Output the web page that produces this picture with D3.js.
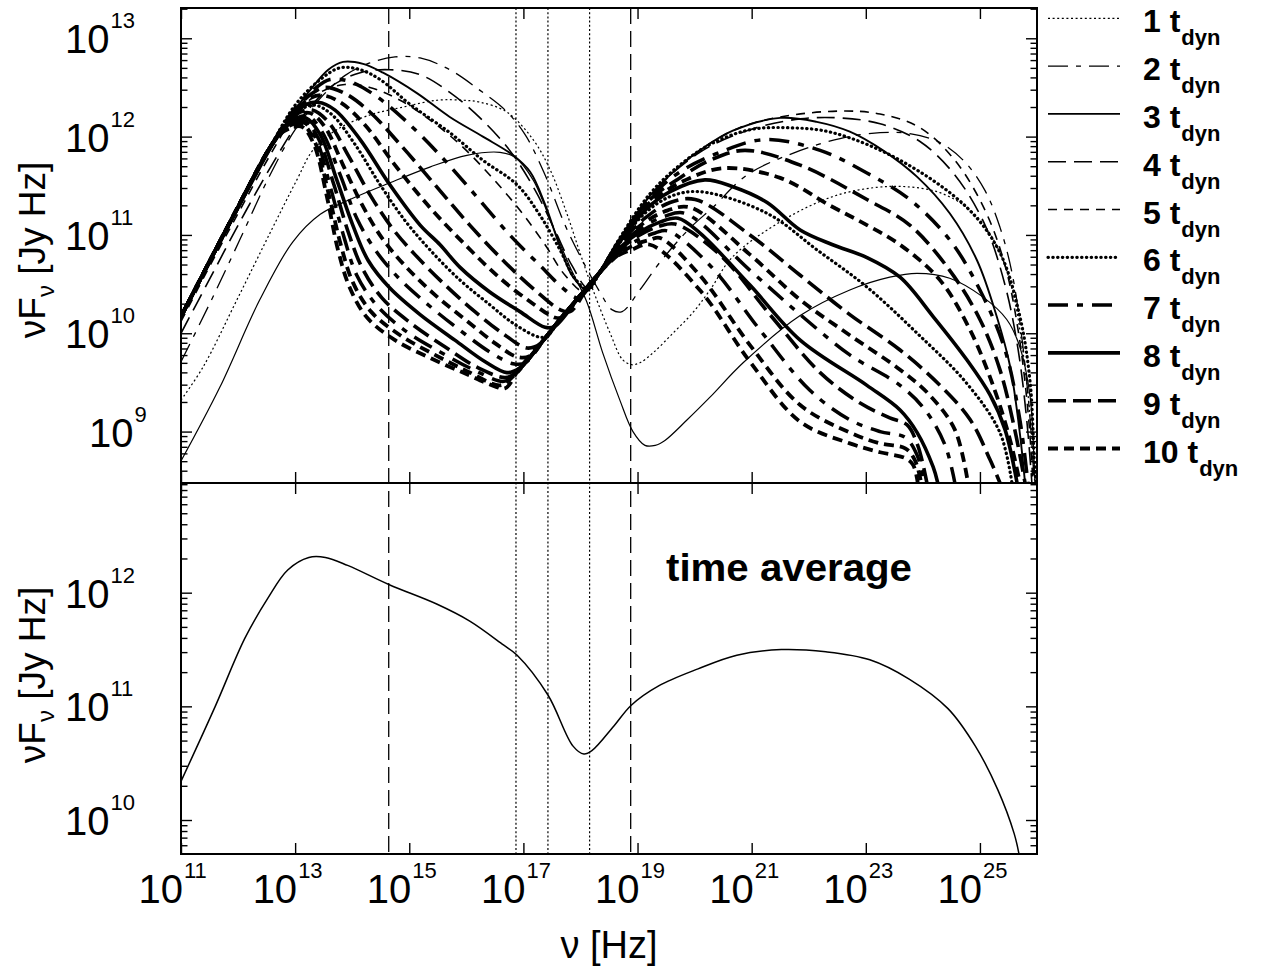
<!DOCTYPE html>
<html><head><meta charset="utf-8">
<script src="https://cdn.jsdelivr.net/npm/d3@7"></script>
<style>
body{margin:0;background:#fff}
svg{display:block}
text{font-family:"Liberation Sans",Arial,Helvetica,sans-serif;fill:#000}
</style>
</head><body>
<svg id="chart" width="1265" height="971"></svg>
<script>
// ---------- DATA (log10 nu [Hz], log10 nuFnu [Jy Hz]) ----------
const xTickExps = [11,13,15,17,19,21,23,25];
const yTopTickExps = [9,10,11,12,13];
const yBotTickExps = [10,11,12];
const vDashedExps = [14.64, 18.88];
const vDottedExps = [16.87, 17.43, 18.16];
const legendLabels = ["1","2","3","4","5","6","7","8","9","10"];
const legendStyles = ["s1","s2","s3","s4","s5","s6","s7","s8","s9","s10"];

const spec0 = [[11.00,8.70],[11.68,9.45],[12.38,10.34],[12.96,10.93],[13.44,11.21],[13.96,11.36],[14.66,11.53],[15.36,11.69],[16.01,11.81],[16.59,11.84],[16.85,11.79],[17.17,11.56],[17.52,11.08],[17.82,10.67],[18.11,10.32],[18.39,9.80],[18.69,9.32],[18.92,9.00],[19.13,8.86],[19.31,8.86],[19.48,8.91],[19.87,9.12],[20.27,9.35],[20.85,9.70],[21.85,10.18],[22.72,10.44],[23.42,10.57],[23.90,10.61],[24.47,10.56],[25.05,10.37],[25.47,10.14],[25.70,9.86],[25.88,9.35],[25.95,8.68],[25.98,8.30]];
const spec1 = [[11.00,9.32],[11.39,9.66],[11.98,10.34],[12.56,11.02],[13.03,11.56],[13.31,11.86],[13.73,12.07],[14.31,12.22],[14.89,12.30],[15.49,12.37],[15.94,12.37],[16.24,12.35],[16.71,12.25],[17.17,11.97],[17.47,11.66],[17.76,11.22],[17.99,10.82],[18.22,10.44],[18.52,10.00],[18.74,9.73],[18.90,9.68],[19.04,9.70],[19.27,9.80],[19.62,10.00],[19.97,10.21],[20.27,10.44],[20.67,10.78],[21.55,11.15],[22.42,11.39],[23.13,11.48],[23.72,11.49],[24.30,11.43],[24.77,11.28],[25.05,11.12],[25.35,10.82],[25.58,10.41],[25.75,9.83],[25.88,9.15],[25.96,8.48]];
const spec2 = [[11.00,9.71],[11.51,10.31],[12.03,10.95],[12.56,11.61],[13.00,12.07],[13.44,12.39],[13.87,12.62],[14.31,12.75],[14.75,12.81],[15.19,12.80],[15.71,12.68],[16.24,12.47],[16.68,12.27],[17.03,12.02],[17.38,11.61],[17.73,11.10],[18.08,10.69],[18.34,10.42],[18.55,10.24],[18.73,10.22],[19.04,10.44],[19.39,10.72],[19.92,11.07],[20.32,11.28],[20.92,11.61],[21.72,11.83],[22.55,11.98],[23.25,12.04],[23.77,12.03],[24.30,11.94],[24.74,11.74],[25.09,11.45],[25.35,11.08],[25.56,10.62],[25.74,9.93],[25.88,9.12],[25.95,8.48]];
const spec3 = [[11.00,10.16],[12.03,11.29],[12.56,11.86],[12.91,12.20],[13.26,12.47],[13.58,12.68],[13.84,12.76],[14.19,12.74],[14.54,12.65],[15.14,12.44],[15.71,12.20],[16.29,12.00],[16.82,11.81],[17.12,11.64],[17.38,11.31],[17.64,10.88],[17.87,10.57],[18.13,10.44],[18.34,10.62],[18.69,10.95],[19.22,11.40],[19.74,11.70],[20.09,11.86],[20.67,12.06],[21.50,12.19],[22.14,12.15],[22.72,12.05],[23.30,11.86],[23.90,11.59],[24.47,11.22],[24.95,10.74],[25.30,10.16],[25.53,9.66],[25.70,8.98],[25.79,8.48]];
const spec4 = [[11.00,10.00],[11.51,10.56],[12.03,11.13],[12.56,11.68],[13.09,12.17],[13.61,12.50],[14.14,12.65],[14.66,12.68],[15.19,12.63],[15.71,12.45],[16.24,12.19],[16.76,11.86],[17.20,11.46],[17.55,11.05],[17.85,10.69],[18.13,10.46],[18.34,10.62],[18.69,10.95],[19.22,11.40],[20.09,11.84],[20.97,12.07],[21.85,12.18],[22.55,12.19],[23.25,12.13],[23.95,11.95],[24.56,11.61],[25.09,11.10],[25.44,10.49],[25.67,9.83],[25.82,9.12],[25.91,8.48]];
const spec5 = [[11.00,10.12],[11.51,10.69],[12.03,11.25],[12.56,11.81],[13.00,12.22],[13.44,12.45],[13.87,12.53],[14.31,12.50],[14.84,12.37],[15.36,12.17],[15.89,11.92],[16.41,11.61],[16.94,11.25],[17.38,10.90],[17.73,10.59],[18.08,10.42],[18.34,10.62],[18.69,10.95],[19.22,11.40],[20.09,11.86],[20.79,12.09],[21.50,12.20],[22.55,12.26],[23.25,12.23],[23.95,12.09],[24.56,11.76],[25.09,11.25],[25.44,10.69],[25.67,10.03],[25.84,9.22],[25.93,8.48]];
const spec6 = [[11.00,10.17],[12.03,11.32],[12.56,11.89],[13.00,12.32],[13.44,12.58],[13.79,12.70],[14.14,12.68],[14.49,12.58],[15.01,12.33],[15.71,12.04],[16.29,11.76],[16.89,11.51],[17.29,11.20],[17.64,10.85],[17.90,10.56],[18.13,10.44],[18.34,10.62],[18.69,10.97],[19.22,11.42],[19.74,11.71],[20.27,11.92],[20.97,12.07],[21.67,12.09],[22.42,12.04],[23.60,11.76],[24.77,11.28],[25.35,10.82],[25.70,10.17],[25.88,9.50],[25.96,8.64],[26.00,8.40]];
const spec7 = [[11.00,10.17],[12.03,11.32],[12.56,11.89],[13.00,12.29],[13.35,12.49],[13.61,12.58],[13.96,12.56],[14.40,12.42],[14.92,12.17],[15.54,11.81],[16.15,11.41],[16.76,11.00],[17.29,10.69],[17.73,10.44],[17.96,10.36],[18.17,10.48],[18.34,10.62],[18.69,10.95],[19.22,11.38],[19.74,11.64],[20.44,11.84],[21.23,11.97],[22.20,11.86],[23.02,11.63],[23.77,11.36],[24.47,10.95],[25.00,10.44],[25.44,9.83],[25.70,9.12],[25.84,8.48]];
const spec8 = [[11.00,10.17],[12.03,11.32],[12.56,11.89],[13.00,12.27],[13.30,12.44],[13.52,12.50],[13.87,12.44],[14.31,12.25],[14.84,11.92],[15.45,11.51],[16.06,11.10],[16.68,10.72],[17.20,10.44],[17.64,10.24],[17.82,10.22],[18.08,10.42],[18.34,10.62],[18.69,10.95],[19.22,11.36],[19.74,11.58],[20.27,11.76],[20.88,11.86],[21.85,11.71],[23.02,11.36],[23.77,11.10],[24.47,10.64],[25.00,10.14],[25.35,9.63],[25.61,9.02],[25.79,8.48]];
const spec9 = [[11.00,10.17],[12.03,11.32],[12.56,11.89],[12.94,12.22],[13.26,12.39],[13.47,12.42],[13.79,12.35],[14.22,12.12],[14.75,11.71],[15.36,11.28],[15.98,10.90],[16.59,10.56],[17.12,10.32],[17.55,10.16],[17.68,10.16],[17.99,10.38],[18.34,10.62],[18.69,10.95],[19.22,11.33],[19.92,11.58],[20.53,11.68],[21.50,11.58],[22.37,11.30],[23.02,11.10],[23.60,10.90],[24.30,10.54],[24.83,10.03],[25.26,9.42],[25.53,8.91],[25.70,8.48]];
const spec10 = [[11.00,10.17],[12.03,11.32],[12.56,11.89],[12.94,12.19],[13.17,12.32],[13.40,12.35],[13.70,12.27],[14.14,11.97],[14.66,11.51],[15.19,11.10],[15.54,10.90],[15.89,10.67],[16.41,10.42],[16.94,10.22],[17.38,10.06],[17.55,10.07],[17.99,10.38],[18.34,10.62],[18.69,10.93],[19.13,11.25],[19.57,11.44],[20.18,11.56],[20.67,11.49],[21.27,11.33],[21.85,11.05],[22.42,10.90],[23.02,10.77],[23.60,10.57],[24.18,10.17],[24.77,9.73],[25.18,9.37],[25.44,9.02],[25.65,8.48]];
const spec11 = [[11.00,10.17],[12.03,11.32],[12.56,11.89],[12.91,12.17],[13.14,12.29],[13.35,12.32],[13.65,12.22],[14.05,11.92],[14.49,11.51],[14.92,11.15],[15.36,10.85],[15.89,10.54],[16.41,10.29],[16.85,10.09],[17.29,9.96],[17.43,9.98],[17.64,10.14],[17.99,10.38],[18.34,10.62],[18.69,10.92],[19.13,11.22],[19.57,11.39],[20.09,11.44],[21.27,11.22],[22.14,10.85],[23.02,10.47],[23.90,10.00],[24.77,9.49],[25.35,8.99],[25.56,8.48]];
const spec12 = [[11.00,10.17],[12.03,11.32],[12.56,11.89],[12.87,12.15],[13.09,12.25],[13.30,12.27],[13.58,12.15],[13.93,11.81],[14.31,11.41],[14.70,11.07],[15.10,10.80],[15.63,10.49],[16.15,10.22],[16.68,9.98],[17.06,9.85],[17.29,9.89],[17.64,10.14],[17.99,10.38],[18.34,10.62],[18.69,10.91],[19.13,11.17],[19.57,11.33],[20.01,11.36],[20.97,11.00],[21.85,10.59],[22.72,10.19],[23.60,9.83],[24.30,9.47],[24.83,9.12],[25.18,8.71],[25.35,8.48]];
const spec13 = [[11.00,10.17],[12.03,11.32],[12.56,11.89],[12.86,12.12],[13.05,12.22],[13.26,12.24],[13.52,12.10],[13.84,11.71],[14.17,11.31],[14.52,10.97],[14.92,10.69],[15.45,10.39],[15.98,10.14],[16.50,9.90],[16.89,9.76],[17.12,9.77],[17.38,9.95],[17.64,10.14],[17.99,10.38],[18.34,10.62],[18.69,10.90],[19.13,11.13],[19.53,11.25],[19.92,11.28],[20.97,10.80],[21.85,10.34],[22.72,9.98],[23.60,9.63],[24.12,9.37],[24.56,9.02],[24.79,8.48]];
const spec14 = [[11.00,10.17],[12.03,11.32],[12.56,11.89],[12.84,12.10],[13.03,12.19],[13.23,12.21],[13.47,12.05],[13.79,11.61],[14.08,11.17],[14.40,10.85],[14.80,10.57],[15.33,10.29],[15.89,10.03],[16.41,9.81],[16.82,9.69],[17.03,9.70],[17.38,9.95],[17.64,10.14],[17.99,10.38],[18.34,10.62],[18.69,10.89],[19.09,11.08],[19.48,11.19],[19.83,11.22],[20.97,10.64],[21.85,10.19],[22.72,9.78],[23.60,9.47],[24.04,9.22],[24.39,8.86],[24.56,8.48]];
const spec15 = [[11.00,10.17],[12.03,11.32],[12.56,11.89],[12.82,12.09],[13.02,12.17],[13.19,12.19],[13.44,12.02],[13.73,11.56],[14.01,11.10],[14.28,10.74],[14.66,10.46],[15.19,10.19],[15.80,9.93],[16.33,9.71],[16.71,9.60],[16.94,9.65],[17.38,9.95],[17.64,10.14],[17.99,10.38],[18.34,10.62],[18.69,10.87],[19.04,11.03],[19.39,11.13],[19.71,11.17],[20.09,11.02],[20.97,10.49],[21.85,9.93],[23.02,9.47],[23.60,9.22],[23.90,8.99],[24.18,8.64],[24.26,8.48]];
const spec16 = [[11.00,10.17],[12.03,11.32],[12.56,11.89],[12.80,12.07],[13.00,12.15],[13.17,12.16],[13.40,11.99],[13.68,11.51],[13.93,11.03],[14.17,10.67],[14.52,10.36],[15.01,10.11],[15.63,9.86],[16.20,9.65],[16.68,9.55],[16.85,9.59],[17.38,9.95],[17.64,10.14],[17.99,10.38],[18.34,10.62],[18.69,10.85],[19.04,11.00],[19.39,11.09],[19.66,11.11],[20.44,10.80],[21.32,10.19],[22.20,9.60],[22.90,9.29],[23.42,9.14],[23.72,9.07],[23.91,8.86],[24.07,8.48]];
const spec17 = [[11.00,10.17],[12.03,11.32],[12.56,11.89],[12.79,12.06],[12.98,12.13],[13.16,12.14],[13.37,11.97],[13.63,11.46],[13.86,10.97],[14.08,10.59],[14.42,10.29],[14.92,10.03],[15.54,9.81],[16.12,9.63],[16.64,9.51],[16.80,9.55],[17.38,9.95],[17.64,10.14],[17.99,10.38],[18.34,10.62],[18.69,10.83],[19.01,10.95],[19.31,11.02],[19.53,11.04],[20.27,10.69],[21.15,10.03],[22.02,9.42],[22.72,9.12],[23.25,9.00],[23.69,8.94],[23.90,8.76],[24.02,8.48]];
const spec18 = [[11.00,10.17],[12.03,11.32],[12.56,11.89],[12.77,12.05],[12.96,12.11],[13.14,12.12],[13.35,11.94],[13.59,11.41],[13.80,10.90],[14.01,10.52],[14.33,10.22],[14.84,9.98],[15.45,9.78],[16.03,9.61],[16.59,9.47],[16.76,9.53],[17.38,9.95],[17.64,10.14],[17.99,10.38],[18.34,10.62],[18.69,10.81],[18.99,10.91],[19.22,10.95],[19.39,10.97],[20.09,10.59],[20.97,9.88],[21.85,9.27],[22.72,8.99],[23.25,8.88],[23.69,8.83],[23.86,8.71],[23.97,8.48]];
const spec19 = [[11.00,10.17],[12.03,11.32],[12.56,11.89],[12.75,12.03],[12.94,12.09],[13.12,12.10],[13.33,11.92],[13.56,11.38],[13.75,10.85],[13.96,10.46],[14.26,10.16],[14.75,9.93],[15.36,9.75],[15.98,9.59],[16.50,9.46],[16.68,9.44],[16.94,9.65],[17.38,9.95],[17.64,10.14],[17.99,10.38],[18.34,10.62],[18.60,10.77],[18.90,10.85],[19.22,10.90],[20.09,10.44],[20.97,9.71],[21.85,9.10],[22.72,8.88],[23.25,8.79],[23.69,8.73],[23.83,8.66],[23.91,8.48]];
const timeAverage = [[11.00,10.34],[11.60,11.00],[12.12,11.60],[12.52,11.95],[12.87,12.20],[13.24,12.31],[13.53,12.31],[13.92,12.24],[14.65,12.07],[15.48,11.90],[16.06,11.75],[16.65,11.54],[16.89,11.45],[17.43,11.10],[17.87,10.65],[18.06,10.58],[18.20,10.61],[18.59,10.83],[18.89,11.01],[19.37,11.18],[20.06,11.33],[20.74,11.45],[21.52,11.50],[22.30,11.48],[23.07,11.41],[23.76,11.24],[24.44,10.98],[24.92,10.65],[25.31,10.27],[25.60,9.88],[25.70,9.66]];

const seriesData  = [spec0,spec1,spec2,spec3,spec4,spec5,spec6,spec7,spec8,spec9,spec10,spec11,spec12,spec13,spec14,spec15,spec16,spec17,spec18,spec19];
const seriesStyle = ["s0","s1","s2","s3","s4","s5","s6","s7","s9","s10","s8","s6","s9","s10","s7","s8","s9","s7","s10","s10"];

// ---------- STYLES ----------
const styles = {
  s0:{w:1.2, dash:null},
  s1:{w:1.2, dash:"2,2.6"},
  s2:{w:1.3, dash:"20,8,5,8"},
  s3:{w:1.9, dash:null},
  s4:{w:1.6, dash:"18,8"},
  s5:{w:1.6, dash:"9,7"},
  s6:{w:3.2, dash:"0.4,4.4", cap:"round"},
  s7:{w:3.5, dash:"20,9,6,9"},
  s8:{w:3.6, dash:null},
  s9:{w:3.6, dash:"18,7"},
  s10:{w:3.8, dash:"10,6"}
};

// ---------- LAYOUT ----------
const L=181, R=1037, T=8, M=483, B=854;
const svg = d3.select("#chart");
const x  = d3.scaleLog().domain([1e11,1e26]).range([L,R]);
const yT = d3.scaleLog().domain([10**8.477,10**13.308]).range([M,T]);
const yB = d3.scaleLog().domain([10**9.701,10**12.965]).range([B,M]);

const defs = svg.append("defs");
defs.append("clipPath").attr("id","clipT").append("rect").attr("x",L).attr("y",T).attr("width",R-L).attr("height",M-T);
defs.append("clipPath").attr("id","clipB").append("rect").attr("x",L).attr("y",M).attr("width",R-L).attr("height",B-M);

function applyStyle(sel, st){
  sel.attr("fill","none").attr("stroke","#000").attr("stroke-width",st.w)
     .attr("stroke-linecap", st.cap||"butt").attr("stroke-linejoin","round");
  if(st.dash) sel.attr("stroke-dasharray", st.dash);
  return sel;
}

// vertical reference lines
const gV = svg.append("g");
vDashedExps.forEach(e=>{
  gV.append("line").attr("x1",x(10**e)).attr("x2",x(10**e)).attr("y1",T).attr("y2",B)
    .attr("stroke","#000").attr("stroke-width",1.3).attr("stroke-dasharray","16,7");
});
vDottedExps.forEach(e=>{
  gV.append("line").attr("x1",x(10**e)).attr("x2",x(10**e)).attr("y1",T).attr("y2",B)
    .attr("stroke","#000").attr("stroke-width",1.2).attr("stroke-dasharray","2,2.2");
});

// curves
const lineT = d3.line().x(d=>x(10**d[0])).y(d=>yT(10**d[1])).curve(d3.curveCatmullRom.alpha(0.5));
const lineB = d3.line().x(d=>x(10**d[0])).y(d=>yB(10**d[1])).curve(d3.curveCatmullRom.alpha(0.5));
const gT = svg.append("g").attr("clip-path","url(#clipT)");
seriesData.forEach((s,i)=>{
  applyStyle(gT.append("path").attr("d",lineT(s)), styles[seriesStyle[i]]);
});
const gB = svg.append("g").attr("clip-path","url(#clipB)");
applyStyle(gB.append("path").attr("d",lineB(timeAverage)), {w:1.5,dash:null});

// ticks
function minorVals(lo,hi){ const v=[]; for(let d=Math.floor(lo)-1; d<=Math.ceil(hi); d++){ for(let m=2;m<=9;m++){ const val=m*10**d; if(Math.log10(val)>lo && Math.log10(val)<hi) v.push(val);} } return v; }
function clean(g){ g.select(".domain").remove(); g.selectAll(".tick line").attr("stroke","#000").attr("stroke-width",1.4); g.selectAll("text").remove(); }
const xMaj = xTickExps.map(e=>10**e);
[[T,d3.axisBottom],[M,d3.axisTop],[M,d3.axisBottom],[B,d3.axisTop]].forEach(([yy,ax])=>{
  svg.append("g").attr("transform",`translate(0,${yy})`).call(ax(x).tickValues(xMaj).tickSize(11).tickFormat("")).call(clean);
});
function yTicks(scale, majExps, lo, hi){
  const maj = majExps.map(e=>10**e), mn = minorVals(lo,hi);
  [[L,d3.axisRight],[R,d3.axisLeft]].forEach(([xx,ax])=>{
    svg.append("g").attr("transform",`translate(${xx},0)`).call(ax(scale).tickValues(maj).tickSize(11).tickFormat("")).call(clean);
    svg.append("g").attr("transform",`translate(${xx},0)`).call(ax(scale).tickValues(mn).tickSize(6.5).tickFormat("")).call(clean);
  });
}
yTicks(yT, yTopTickExps, 8.477, 13.308);
yTicks(yB, yBotTickExps, 9.701, 12.965);

// frames
svg.append("rect").attr("x",L).attr("y",T).attr("width",R-L).attr("height",B-T).attr("fill","none").attr("stroke","#000").attr("stroke-width",2);
svg.append("line").attr("x1",L).attr("x2",R).attr("y1",M).attr("y2",M).attr("stroke","#000").attr("stroke-width",2);

// tick labels
function powLabel(xx, yy, exp){
  const t = svg.append("text").attr("x",xx).attr("y",yy).attr("font-size",40);
  t.append("tspan").text("10");
  t.append("tspan").attr("font-size",22).attr("dy",-25).attr("dx",1).text(exp);
}
xTickExps.forEach(e=> powLabel(x(10**e)-42.5, 903, e));
yTopTickExps.forEach(e=> powLabel(String(e).length>1?65:89, yT(10**e)+15, e));
yBotTickExps.forEach(e=> powLabel(65, yB(10**e)+15, e));

// axis titles
function yTitle(cy){
  const t = svg.append("text").attr("transform",`translate(45,${cy}) rotate(-90)`).attr("text-anchor","middle").attr("font-size",37);
  t.append("tspan").text("\u03bdF");
  t.append("tspan").attr("font-size",24).attr("dy",9).text("\u03bd");
  t.append("tspan").attr("dy",-9).text(" [Jy Hz]");
}
yTitle(250);
yTitle(675);
svg.append("text").attr("x",(L+R)/2).attr("y",958).attr("text-anchor","middle").attr("font-size",38).text("\u03bd [Hz]");

// time average label
svg.append("text").attr("x",666).attr("y",581).attr("font-size",38).attr("font-weight","bold")
   .attr("textLength",246).attr("lengthAdjust","spacingAndGlyphs").text("time average");

// legend
legendLabels.forEach((lab,i)=>{
  const yy = 18.3 + i*47.8;
  applyStyle(svg.append("line").attr("x1",1048).attr("x2",1120).attr("y1",yy).attr("y2",yy), styles[legendStyles[i]]);
  const t = svg.append("text").attr("x",1143).attr("y",yy+14).attr("font-size",32).attr("font-weight","bold");
  t.append("tspan").text(lab+" t");
  t.append("tspan").attr("font-size",22).attr("dy",13).attr("dx",1).text("dyn");
});
</script>
</body></html>
